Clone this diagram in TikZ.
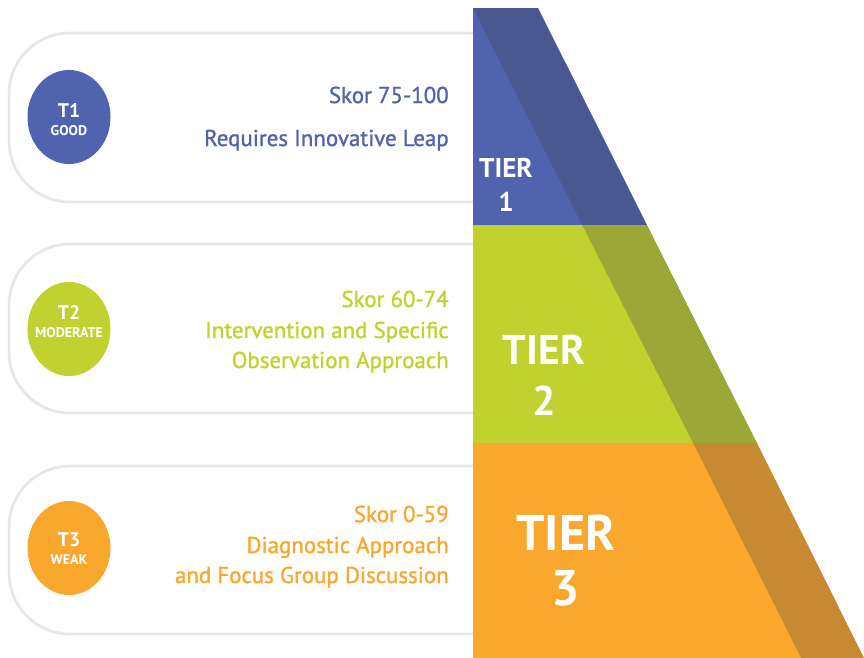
\documentclass[tikz,border=0pt]{standalone}
\usepackage{fontspec}
\setmainfont{PT Sans}
\newfontfamily\medfont[FakeBold=1.2]{PT Sans}
\usepackage{xcolor}
\usetikzlibrary{shapes.geometric, positioning}

\definecolor{tblue}{HTML}{5163AE}
\definecolor{tbluedark}{HTML}{4A5892}
\definecolor{tgreen}{HTML}{C1D12F}
\definecolor{tgreendark}{HTML}{9BA837}
\definecolor{torange}{HTML}{F9A72D}
\definecolor{torangedark}{HTML}{C88933}
\definecolor{pillgray}{HTML}{E6E7E8}

\begin{document}
\begin{tikzpicture}[
    x=0.025cm, y=-0.025cm,
    pill/.style={draw=pillgray, line width=2pt, fill=white},
    badge/.style={ellipse, minimum width=2.075cm, minimum height=2.35cm, inner sep=0pt},
    badgetop/.style={text=white, font=\fontsize{14}{14}\selectfont\bfseries, inner sep=0pt, anchor=base},
    badgesub/.style={text=white, font=\fontsize{10}{10}\selectfont\bfseries, inner sep=0pt, anchor=base},
    scoretext/.style={font=\fontsize{16.3}{16.3}\selectfont\medfont, inner sep=0pt, anchor=base east},
    tierlabel/.style={text=white, inner sep=0pt, anchor=base}
]
    \useasboundingbox (0,0) rectangle (864,658);

    % --- Pills ---
    \draw[pill] (520,33) -- (70,33) arc[start angle=90, end angle=180, radius=1.525cm]
        -- (9,141) arc[start angle=180, end angle=270, radius=1.525cm] -- (520,202);
    \draw[pill] (520,244) -- (70,244) arc[start angle=90, end angle=180, radius=1.525cm]
        -- (9,352) arc[start angle=180, end angle=270, radius=1.525cm] -- (520,413);
    \draw[pill] (520,466) -- (70,466) arc[start angle=90, end angle=180, radius=1.525cm]
        -- (9,573) arc[start angle=180, end angle=270, radius=1.525cm] -- (520,634);

    % --- Tier 1 ---
    \fill[tbluedark] (473,8) -- (538,8) -- (647,225) -- (473,225) -- cycle;
    \fill[tblue] (473,8) -- (582,225) -- (473,225) -- cycle;
    \node[tierlabel, font=\fontsize{19.3}{19.3}\selectfont\bfseries] (tier1) at (506,177) {TIER};
    \node[tierlabel, font=\fontsize{19.3}{19.3}\selectfont\bfseries] (tier1n) at (506,211) {1};

    % --- Tier 2 ---
    \fill[tgreendark] (473,225) -- (647,225) -- (757,443) -- (473,443) -- cycle;
    \fill[tgreen] (473,225) -- (582,225) -- (693,443) -- (473,443) -- cycle;
    \node[tierlabel, font=\fontsize{29.5}{29.5}\selectfont\bfseries] (tier2) at (544,364) {TIER};
    \node[tierlabel, font=\fontsize{29.5}{29.5}\selectfont\bfseries] (tier2n) at (544,415) {2};

    % --- Tier 3 ---
    \fill[torangedark] (473,443) -- (757,443) -- (864,658) -- (473,658) -- cycle;
    \fill[torange] (473,443) -- (693,443) -- (801,658) -- (473,658) -- cycle;
    \node[tierlabel, font=\fontsize{35.6}{35.6}\selectfont\bfseries] (tier3) at (566,550) {TIER};
    \node[tierlabel, font=\fontsize{35.6}{35.6}\selectfont\bfseries] (tier3n) at (566,605) {3};

    % --- Badges ---
    \node[badge, fill=tblue] (t1) at (69,117) {};
    \node[badgetop] at (69,117) {T1};
    \node[badgesub] at (69,135) {GOOD};

    \node[badge, fill=tgreen] (t2) at (69,329) {};
    \node[badgetop] at (69,319) {T2};
    \node[badgesub] at (69,337) {MODERATE};

    \node[badge, fill=torange] (t3) at (69,548) {};
    \node[badgetop] at (69,546) {T3};
    \node[badgesub] at (69,564) {WEAK};

    % --- Scores ---
    \node[scoretext, text=tblue] (skor1) at (449,103) {Skor 75-100};
    \node[scoretext, text=tblue] (desc1) at (449,146) {Requires Innovative Leap};

    \node[scoretext, text=tgreen] (skor2) at (449,307) {Skor 60-74};
    \node[scoretext, text=tgreen] (desc2a) at (449,338) {Intervention and Specific};
    \node[scoretext, text=tgreen] (desc2b) at (449,368) {Observation Approach};

    \node[scoretext, text=torange] (skor3) at (449,522) {Skor 0-59};
    \node[scoretext, text=torange] (desc3a) at (449,553) {Diagnostic Approach};
    \node[scoretext, text=torange] (desc3b) at (449,583) {and Focus Group Discussion};

\end{tikzpicture}
\end{document}
